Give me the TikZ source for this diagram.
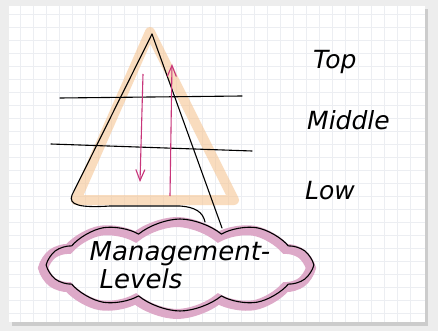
\documentclass[tikz,border=0pt]{standalone}
\usepackage{fontspec}
\usepackage{tikz}
\usetikzlibrary{arrows.meta,shapes.symbols}
\newfontfamily\handfont{DejaVu Sans}
\definecolor{ppink}{HTML}{C8357A}
\definecolor{porange}{HTML}{F5C593}
\definecolor{pmauve}{HTML}{DDA9C8}
\definecolor{pgrid}{HTML}{ECEEF2}
\definecolor{pback}{HTML}{EDEDED}
\tikzset{
 ink/.style={draw=black,line width=1.1pt,line cap=round,line join=round},
 marker/.style={draw=porange,line width=10pt,line cap=round,line join=round,opacity=0.6},
 pinkarrow/.style={-{Straight Barb[length=11pt,width=9pt]},draw=ppink,line width=1.1pt},
 hand/.style={font=\fontsize{25}{28}\selectfont\handfont\itshape,anchor=west,inner sep=0pt},
 cloudbox/.style={cloud,cloud puffs=10,cloud puff arc=80,aspect=3.6,draw=black,line width=1.1pt,
   minimum width=262pt,minimum height=60pt,align=left,inner sep=-4pt,
   font=\fontsize{26}{28}\selectfont\handfont\itshape,
   preaction={draw=pmauve,line width=10pt,transform canvas={shift={(-3pt,-3pt)}}}}
}
\begin{document}
\begin{tikzpicture}[x=1pt,y=-1pt]
 \useasboundingbox (0,0) rectangle (438,331);
 % paper card
 \fill[pback] (0,0) rectangle (438,331);
 \fill[gray!40] (12,9) rectangle (428,326);
 \fill[white] (9,6) rectangle (425,322);
 \foreach \gx in {20,33,...,420} \draw[pgrid,line width=0.6pt] (\gx,6) -- (\gx,322);
 \foreach \gy in {14,27,...,320} \draw[pgrid,line width=0.6pt] (9,\gy) -- (425,\gy);
 % pyramid
 \coordinate (apex) at (152,34);
 \coordinate (left) at (72,195);
 \coordinate (right) at (222,228);
 \coordinate (foot) at (205,222);
 \draw[marker] (150,32) -- (76,200) -- (234,200) -- cycle;
 \draw[ink] (apex) -- (left) .. controls (68,205) and (80,208) .. (110,206)
   -- (180,206) .. controls (195,207) and (203,212) .. (foot);
 \draw[ink] (apex) -- (right);
 % levels
 \coordinate (l1a) at (60,98);
 \coordinate (l1b) at (242,96);
 \coordinate (l2a) at (51,144);
 \coordinate (l2b) at (252,151);
 \draw[ink] (l1a) -- (l1b);
 \draw[ink] (l2a) -- (l2b);
 % directions
 \coordinate (dtop) at (143,74);
 \coordinate (dbot) at (140,182);
 \coordinate (ubot) at (170,196);
 \coordinate (utop) at (172,64);
 \draw[pinkarrow] (dtop) -- (dbot);
 \draw[pinkarrow] (ubot) -- (utop);
 \node[hand] (top) at (313,62) {Top};
 \node[hand] (middle) at (307,120) {Middle};
 \node[hand] (low) at (305,191) {Low};
 % label
 \node[cloudbox] (levels) at (180,265) {Management-\\\hspace{10pt}Levels};
\end{tikzpicture}
\end{document}
